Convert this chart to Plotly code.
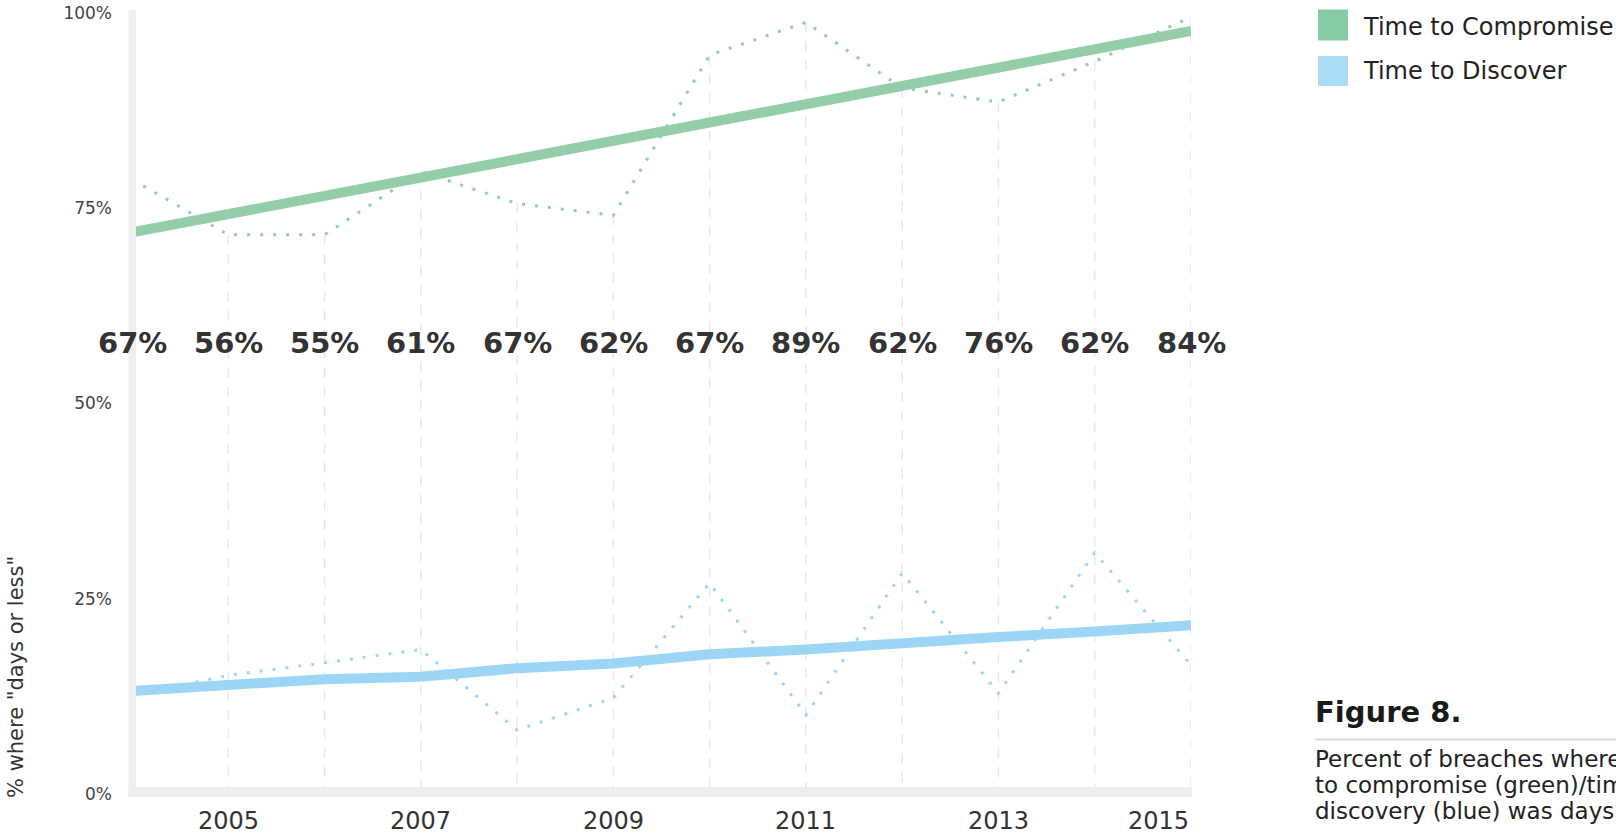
import plotly.graph_objects as go

# ---------------- data ----------------
years = [2004, 2005, 2006, 2007, 2008, 2009, 2010, 2011, 2012, 2013, 2014, 2015]
compromise_raw = [78.7, 71.6, 71.6, 79.7, 75.6, 74.1, 94.6, 98.8, 90.4, 88.6, 93.8, 99.5]
discover_raw = [12.6, 15.2, 16.8, 18.5, 8.2, 12.3, 27.0, 10.1, 28.3, 12.9, 30.9, 16.5]
compromise_trend_years = [2004, 2015]
compromise_trend = [71.9, 97.7]
discover_trend = [13.2, 14.0, 14.7, 15.0, 16.1, 16.7, 17.9, 18.5, 19.4, 20.1, 20.8, 21.6]
gap_labels = ["67%", "56%", "55%", "61%", "67%", "62%", "67%", "89%", "62%", "76%", "62%", "84%"]
gap_label_level = 57.7
ytick_vals = [0, 25, 50, 75, 100]
ytick_text = ["0%", "25%", "50%", "75%", "100%"]
xlabel_years = [2005, 2007, 2009, 2011, 2013, 2015]
series_names = ["Time to Compromise", "Time to Discover"]
y_title = '% where "days or less"'
fig_title = "Figure 8."
caption_lines = ["Percent of breaches where time", "to compromise (green)/time to",
                 "discovery (blue) was days or less"]

# ---------------- style ----------------
W, H = 1616, 836
L, R, T, B = 132, 425, 13, 42
GREEN = "#93cea9"
GREEN_LEG = "#86cba4"
BLUE = "#9dd6f5"
BLUE_LEG = "#aadcf5"
AXIS = "#eeeeee"
DROP = "#e8e8e8"
FONT = "DejaVu Sans"


def px(x):
    return (x - L) / (W - L - R)


def py(y):
    return (H - B - y) / (H - T - B)


fig = go.Figure()

# drop lines from the raw compromise points to the axis
dx, dy = [], []
for yr, v in zip(years, compromise_raw):
    if yr == years[0]:
        continue
    dx += [yr, yr, None]
    dy += [v, 0, None]
fig.add_trace(go.Scatter(x=dx, y=dy, mode="lines", hoverinfo="skip",
                         line=dict(color=DROP, width=1.5, dash="10px,9px"),
                         showlegend=False))

# raw dotted series
fig.add_trace(go.Scatter(x=years, y=compromise_raw, mode="lines", showlegend=False,
                         line=dict(color=GREEN, width=3, dash="3px,10px")))
fig.add_trace(go.Scatter(x=years, y=discover_raw, mode="lines", showlegend=False,
                         line=dict(color=BLUE, width=3, dash="3px,10px")))

# trend lines
fig.add_trace(go.Scatter(x=compromise_trend_years, y=compromise_trend, mode="lines",
                         name=series_names[0], showlegend=False,
                         line=dict(color=GREEN, width=10)))
fig.add_trace(go.Scatter(x=years, y=discover_trend, mode="lines",
                         name=series_names[1], showlegend=False,
                         line=dict(color=BLUE, width=10)))

annotations = []
# gap percentage labels
for yr, lab in zip(years, gap_labels):
    annotations.append(dict(x=yr, y=gap_label_level, xref="x", yref="y",
                            text="<b>" + lab + "</b>",
                            showarrow=False, xanchor="center", yanchor="middle",
                            font=dict(family=FONT, size=29, color="#333333")))
# x labels
for yr in xlabel_years:
    annotations.append(dict(x=yr, y=py(820.5), xref="x", yref="paper", text=str(yr),
                            showarrow=False,
                            xanchor="right" if yr == xlabel_years[-1] else "center",
                            yanchor="middle",
                            font=dict(family=FONT, size=24, color="#333333")))
# y title
annotations.append(dict(x=px(16), y=py(800), xref="paper", yref="paper", text=y_title,
                        textangle=-90, showarrow=False, xanchor="center", yanchor="bottom",
                        font=dict(family=FONT, size=21, color="#333333")))
# legend text
annotations.append(dict(x=px(1361), y=py(27), xref="paper", yref="paper",
                        text=series_names[0], showarrow=False, xanchor="left",
                        yanchor="middle", font=dict(family=FONT, size=24, color="#222222")))
annotations.append(dict(x=px(1361), y=py(71), xref="paper", yref="paper",
                        text=series_names[1], showarrow=False, xanchor="left",
                        yanchor="middle", font=dict(family=FONT, size=24, color="#222222")))
# figure label and caption
annotations.append(dict(x=px(1313), y=py(712), xref="paper", yref="paper",
                        text="<b>" + fig_title + "</b>", showarrow=False, xanchor="left",
                        yanchor="middle", font=dict(family=FONT, size=29, color="#1a1a1a")))
for i, line in enumerate(caption_lines):
    annotations.append(dict(x=px(1313), y=py(759 + 26 * i), xref="paper", yref="paper",
                            text=line, showarrow=False, xanchor="left",
                            yanchor="middle", align="left",
                            font=dict(family=FONT, size=23, color="#222222")))

shapes = [
    # axis bands
    dict(type="rect", xref="paper", yref="paper", x0=px(128.5), x1=px(1192),
         y0=py(797), y1=py(787), fillcolor=AXIS, line=dict(width=0), layer="above"),
    dict(type="rect", xref="paper", yref="paper", x0=px(128.5), x1=px(136),
         y0=py(797), y1=py(10), fillcolor=AXIS, line=dict(width=0), layer="above"),
    # legend keys
    dict(type="rect", xref="paper", yref="paper", x0=px(1318), x1=px(1348),
         y0=py(40.5), y1=py(9.5), fillcolor=GREEN_LEG, line=dict(width=0)),
    dict(type="rect", xref="paper", yref="paper", x0=px(1318), x1=px(1348),
         y0=py(86), y1=py(56), fillcolor=BLUE_LEG, line=dict(width=0)),
    # caption rule
    dict(type="line", xref="paper", yref="paper", x0=px(1315), x1=px(1640),
         y0=py(739.5), y1=py(739.5), line=dict(color="#d9d9d9", width=2)),
]

fig.update_layout(
    width=W, height=H,
    margin=dict(l=L, r=R, t=T, b=B, pad=0, autoexpand=False),
    paper_bgcolor="white", plot_bgcolor="white",
    showlegend=False,
    annotations=annotations,
    shapes=shapes,
    xaxis=dict(range=[years[0], years[-1]], showgrid=False, zeroline=False,
               showline=False, showticklabels=False, ticks="", automargin=False),
    yaxis=dict(range=[0, 100], showgrid=False, zeroline=False, showline=False,
               tickvals=ytick_vals, ticktext=ytick_text, automargin=False,
               ticks="", ticklabelstandoff=19,
               tickfont=dict(family=FONT, size=17, color="#444444")),
)

fig.write_html("out.html", config={"displayModeBar": False},
               post_script="document.body.style.margin='0';")
